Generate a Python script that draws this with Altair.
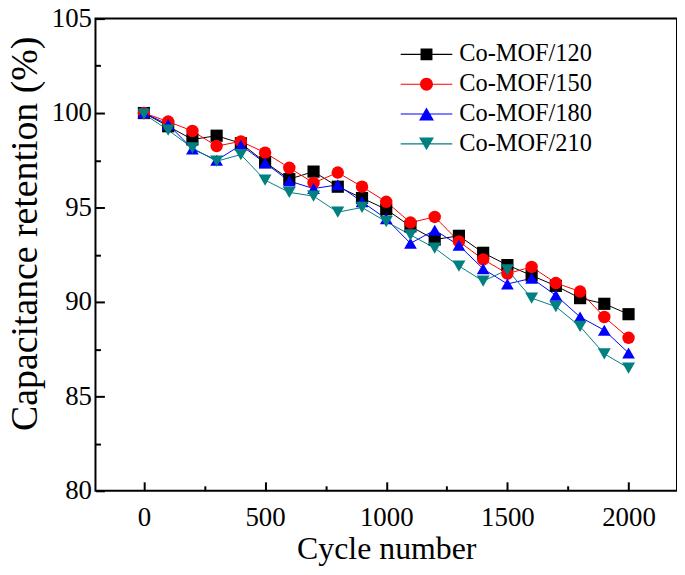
import altair as alt
import pandas as pd

cycles = [0, 100, 200, 300, 400, 500, 600, 700, 800, 900, 1000,
          1100, 1200, 1300, 1400, 1500, 1600, 1700, 1800, 1900, 2000]
series_names = ["Co-MOF/120", "Co-MOF/150", "Co-MOF/180", "Co-MOF/210"]
mof120 = [100.0, 99.3, 98.6, 98.8, 98.4, 97.4, 96.5, 96.9, 96.1, 95.5, 94.9,
          94.0, 93.3, 93.5, 92.6, 91.95, 91.4, 90.85, 90.2, 89.9, 89.35]
mof150 = [100.0, 99.55, 99.05, 98.25, 98.5, 97.9, 97.1, 96.3, 96.85, 96.1, 95.3,
          94.2, 94.5, 93.2, 92.25, 91.5, 91.85, 91.0, 90.55, 89.2, 88.1]
mof180 = [100.0, 99.4, 98.1, 97.5, 98.3, 97.35, 96.4, 96.0, 96.2, 95.3, 94.4,
          93.1, 93.8, 93.0, 91.75, 90.95, 91.25, 90.35, 89.2, 88.5, 87.3]
mof210 = [99.95, 99.1, 98.15, 97.45, 97.8, 96.45, 95.8, 95.6, 94.75, 95.0, 94.25,
          93.55, 92.85, 91.9, 91.1, 91.7, 90.2, 89.75, 88.7, 87.25, 86.5]
colors = ["#000000", "#FF0000", "#0000FF", "#008080"]
shapes = ["square", "circle", "triangle-up", "triangle-down"]
marker_sizes = [150, 170, 210, 210]
# legend glyphs: a thin filled bar (the line) plus the marker, same winding
BAR = "M-1.73,-0.035H1.73V0.035H-1.73Z"
legend_shapes = [
    BAR + "M-0.4,-0.4H0.4V0.4H-0.4Z",
    BAR + "M-0.433,0A0.433,0.433,0,1,1,0.433,0A0.433,0.433,0,1,1,-0.433,0Z",
    BAR + "M0,-0.433L0.5,0.433L-0.5,0.433Z",
    BAR + "M0,0.433L-0.5,-0.433L0.5,-0.433Z",
]
x_major = [0, 500, 1000, 1500, 2000]
x_minor = [250, 750, 1250, 1750]
y_major = [80, 85, 90, 95, 100, 105]
y_minor = [82.5, 87.5, 92.5, 97.5, 102.5]

rows = []
for name, vals in zip(series_names, [mof120, mof150, mof180, mof210]):
    for c, v in zip(cycles, vals):
        rows.append({"cycle": c, "retention": v, "series": name})
df = pd.DataFrame(rows)

FONT = "Liberation Serif"
xscale = alt.Scale(domain=[-200, 2200], nice=False, zero=False)
yscale = alt.Scale(domain=[80, 105], nice=False, zero=False)
color = alt.Color("series:N", scale=alt.Scale(domain=series_names, range=colors), legend=None)

base = alt.Chart(df)

lines = base.mark_line(strokeWidth=1).encode(
    x=alt.X("cycle:Q", scale=xscale, axis=None),
    y=alt.Y("retention:Q", scale=yscale, axis=None),
    color=color,
    detail="series:N",
)

points = base.mark_point(filled=True, opacity=1).encode(
    x=alt.X("cycle:Q", scale=xscale, axis=alt.Axis(
        orient="bottom", values=x_major, format="d", ticks=False, domain=False, grid=False,
        labelFont=FONT, labelFontSize=27, labelColor="black", labelPadding=35,
        labelBaseline="alphabetic", labelOverlap=False,
        title="Cycle number", titleFont=FONT, titleFontSize=32, titleFontWeight="normal",
        titleColor="black", titleY=68, titleBaseline="alphabetic")),
    y=alt.Y("retention:Q", scale=yscale, axis=alt.Axis(
        orient="left", values=y_major, ticks=False, domain=False, grid=False,
        labelFont=FONT, labelFontSize=27, labelColor="black", labelPadding=4,
        labelOverlap=False,
        title="Capacitance retention (%)", titleFont=FONT, titleFontSize=38,
        titleFontWeight="normal", titleColor="black", titleAngle=270,
        titleX=-59, titleY=216, titleAlign="center", titleBaseline="alphabetic")),
    color=color,
    shape=alt.Shape("series:N", scale=alt.Scale(domain=series_names, range=shapes), legend=None),
    size=alt.Size("series:N", scale=alt.Scale(domain=series_names, range=marker_sizes), legend=None),
)


def tick_layer(xvals, yvals, length):
    return base.mark_point(opacity=0).encode(
        x=alt.X("cycle:Q", scale=xscale, title=None, axis=alt.Axis(
            orient="bottom", offset=-length, values=xvals, tickSize=length, tickWidth=2,
            tickColor="black", labels=False, domain=False, grid=False)),
        y=alt.Y("retention:Q", scale=yscale, title=None, axis=alt.Axis(
            orient="left", offset=-length, values=yvals, tickSize=length, tickWidth=2,
            tickColor="black", labels=False, domain=False, grid=False)),
    )


major = tick_layer(x_major, y_major, 9)
minor = tick_layer(x_minor, y_minor, 5)

leg = alt.Legend(orient="none", legendX=318, legendY=21, direction="vertical",
                 title=None, symbolSize=900, symbolStrokeWidth=0,
                 labelFont=FONT, labelFontSize=24.5, labelColor="black",
                 labelOffset=18, rowPadding=3, padding=0, labelLimit=300)

legend_layer = base.transform_filter("false").mark_point(filled=True, opacity=1, strokeWidth=0).encode(
    x=alt.X("cycle:Q", scale=xscale, axis=None),
    y=alt.Y("retention:Q", scale=yscale, axis=None),
    color=alt.Color("series:N", scale=alt.Scale(domain=series_names, range=colors), legend=leg),
    shape=alt.Shape("series:N", scale=alt.Scale(domain=series_names, range=legend_shapes), legend=leg),
)

chart = alt.layer(lines, points, major, minor, legend_layer).resolve_scale(
    color="independent", shape="independent", size="independent"
).resolve_axis(
    x="independent", y="independent"
).properties(
    width=585, height=475, autosize="none",
    padding={"left": 88, "top": 9, "right": 0, "bottom": 75},
    background="white",
).configure_view(stroke="black", strokeWidth=2)

chart.save("out.html", embed_options={"renderer": "svg", "actions": False})
